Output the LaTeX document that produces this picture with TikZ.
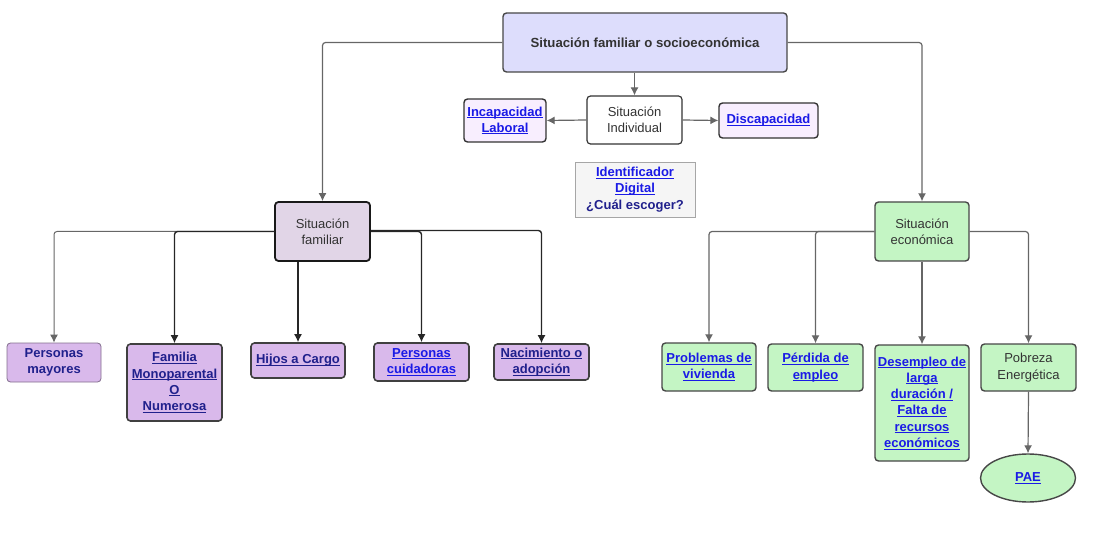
\documentclass[tikz,border=0pt]{standalone}
\usepackage{fontspec}
\setmainfont{Liberation Sans}
\usetikzlibrary{arrows.meta,shapes.geometric}

\definecolor{edgegray}{HTML}{666666}
\definecolor{linkblue}{HTML}{1A1AE6}
\definecolor{navyblue}{HTML}{20208C}
\definecolor{textgray}{HTML}{333333}
\definecolor{topfill}{HTML}{DDDDFC}
\definecolor{famfill}{HTML}{E1D5E7}
\definecolor{purplefill}{HTML}{D9B9EB}
\definecolor{greenfill}{HTML}{C4F5C4}
\definecolor{pinkfill}{HTML}{F8EEFE}
\definecolor{idfill}{HTML}{F5F5F5}

% underlined link text, rule sits just under the baseline
\newcommand\lnk[1]{\setbox0\hbox{#1}\rlap{\rule[-1.8pt]{\wd0}{0.8pt}}\box0}

\begin{document}
\begin{tikzpicture}[x=1pt,y=-1pt,
  every node/.style={inner sep=0pt, align=center, font=\fontsize{13}{16.3}\selectfont},
  boldtext/.style={font=\fontsize{13}{16.3}\selectfont\bfseries},
  box/.style={draw, rounded corners=3.5pt, line width=1.4pt},
  topbox/.style={box, draw=textgray!90, fill=topfill, text=textgray,
                 font=\fontsize{13.2}{16}\selectfont\bfseries},
  plainbox/.style={box, draw=textgray, fill=white, text=textgray, line width=1.2pt},
  pinkbox/.style={box, draw=textgray, fill=pinkfill, boldtext},
  idbox/.style={draw=gray!70, fill=idfill, line width=0.8pt, boldtext},
  fambox/.style={box, draw=black!90, fill=famfill, text=textgray, line width=1.8pt},
  purplebox/.style={box, draw=black!75, fill=purplefill, line width=1.6pt, boldtext},
  softbox/.style={box, draw=purplefill!60!black, fill=purplefill, line width=0.8pt, boldtext},
  greenbox/.style={box, draw=textgray!90, fill=greenfill, line width=1.4pt, boldtext},
  greenplain/.style={box, draw=textgray!90, fill=greenfill, text=textgray, line width=1.4pt},
  link/.style={text=linkblue},
  navy/.style={text=navyblue},
  conn/.style={draw=edgegray, line width=1.2pt, rounded corners=3pt,
               -{Latex[length=8pt,width=8pt]}},
  darkconn/.style={conn, draw=black!85, line width=1.4pt}
]
\useasboundingbox (0,0) rectangle (1118,534);

% top level
\node[topbox, minimum width=284pt, minimum height=59pt] (top) at (645,42.5)
  {Situación familiar o socioeconómica};

% individual branch
\node[plainbox, minimum width=95pt, minimum height=48pt] (si) at (634.5,120)
  {Situación\\Individual};
\node[pinkbox, link, minimum width=82pt, minimum height=43pt] (inc) at (505,120.5)
  {\lnk{Incapacidad}\\\lnk{Laboral}};
\node[pinkbox, link, minimum width=99pt, minimum height=35pt] (dis) at (768.5,120.5)
  {\lnk{Discapacidad}};
\node[idbox, minimum width=120pt, minimum height=55pt] (idd) at (635,189.5)
  {\textcolor{linkblue}{\lnk{Identificador}}\\\textcolor{linkblue}{\lnk{Digital}}\\\textcolor{navyblue}{¿Cuál escoger?}};

% family branch
\node[fambox, minimum width=95pt, minimum height=59pt] (sf) at (322.5,231.5)
  {Situación\\familiar};
\node[softbox, navy, minimum width=94pt, minimum height=39pt] (pm) at (54,362.5)
  {Personas\\mayores};
\node[purplebox, navy, minimum width=95pt, minimum height=77pt] (fam) at (174.5,382.5)
  {\lnk{Familia}\\\lnk{Monoparental}\\\lnk{O}\\\lnk{Numerosa}};
\node[purplebox, navy, minimum width=94pt, minimum height=35pt] (hc) at (298,360.5)
  {\lnk{Hijos a Cargo}};
\node[purplebox, link, minimum width=95pt, minimum height=38pt] (pc) at (421.5,362)
  {\lnk{Personas}\\\lnk{cuidadoras}};
\node[purplebox, navy, minimum width=95pt, minimum height=36pt] (na) at (541.5,362)
  {\lnk{Nacimiento o}\\\lnk{adopción}};

% economic branch
\node[greenplain, minimum width=94pt, minimum height=59pt] (se) at (922,231.5)
  {Situación\\económica};
\node[greenbox, link, minimum width=94pt, minimum height=48pt] (pv) at (709,367)
  {\lnk{Problemas de}\\\lnk{vivienda}};
\node[greenbox, link, minimum width=95pt, minimum height=47pt] (pe) at (815.5,367.5)
  {\lnk{Pérdida de}\\\lnk{empleo}};
\node[greenbox, link, minimum width=94pt, minimum height=116pt] (de) at (922,403)
  {\lnk{Desempleo de}\\\lnk{larga}\\\lnk{duración /}\\\lnk{Falta de}\\\lnk{recursos}\\\lnk{económicos}};
\node[greenplain, minimum width=95pt, minimum height=47pt] (po) at (1028.5,367.5)
  {Pobreza\\Energética};
\node[ellipse, draw=textgray!90, fill=greenfill, line width=1.4pt, link,
      minimum width=95pt, minimum height=48pt, boldtext] (pae) at (1028,478) {\lnk{PAE}};

% connectors from the top box
\draw[conn] (top.west) -| (sf.north);
\draw[conn] (top.east) -| (se.north);
\draw[conn] (top.south -| si.north) -- (si.north);
\draw[conn] (si.west) -- (inc.east);
\draw[conn] (si.east) -- (dis.west);

% family children
\draw[conn, line width=1pt] (sf.west) -| (pm.north);
\draw[darkconn] (sf.west) -| (fam.north);
\draw[darkconn] (sf.south -| hc.north) -- (hc.north);
\draw[darkconn] (sf.east) -| (pc.north);
\draw[darkconn] ([yshift=1pt]sf.east) -| (na.north);

% economic children
\draw[conn] (se.west) -| (pv.north);
\draw[conn] (se.west) -| (pe.north);
\draw[conn] (se.south) -- (de.north);
\draw[conn] (se.east) -| (po.north);
\draw[conn] (po.south) -- (pae.north);
\end{tikzpicture}
\end{document}
